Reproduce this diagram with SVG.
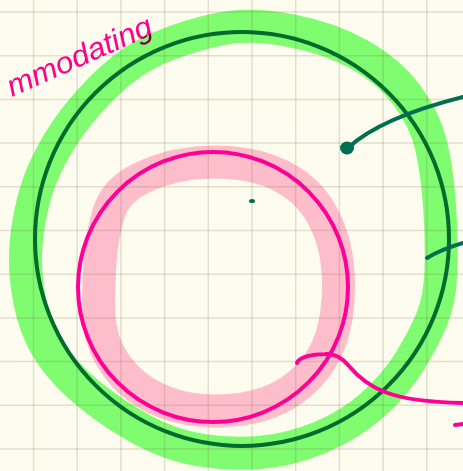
<svg xmlns="http://www.w3.org/2000/svg" width="463" height="471" viewBox="0 0 463 471">
<style>
.grid line{stroke:#7a6a4a;stroke-opacity:0.2;stroke-width:1.5}
.hl{fill:none;stroke-width:33;stroke-linejoin:round;mix-blend-mode:multiply}
.ink{fill:none;stroke-width:4;stroke-linecap:round;stroke-linejoin:round}
</style>
<rect width="463" height="471" fill="#fefcee"/>
<g id="highlights">
<path class="hl" stroke="#80ff78" d="M290,30.5 Q330,38 360,55 Q390,72 407.5,96 Q425,120 431,145 Q437,170 439.5,205 Q442,240 441,270 Q440,300 431.5,320 Q423,340 409,362.5 Q395,385 372.5,405 Q350,425 320,437.5 Q290,450 260,452.5 Q230,455 200,450 Q170,445 142.5,430 Q115,415 90,395 Q65,375 50,352.5 Q35,330 29.5,300 Q24,270 26,245 Q28,220 35,195 Q42,170 58.5,142.5 Q75,115 102.5,87.5 Q130,60 160,47.5 Q190,35 220,29 Q250,23 290,30.5 Z"/>
<path class="hl" stroke="#ffc0da" d="M242.5,164 Q270,168 291,181.5 Q312,195 323.5,217.5 Q335,240 337.5,265 Q340,290 336.5,315 Q333,340 321.5,359 Q310,378 290,391.5 Q270,405 242.5,409 Q215,413 190,409 Q165,405 145,392.5 Q125,380 112.5,360 Q100,340 99,315 Q98,290 100,262.5 Q102,235 108.5,213.5 Q115,192 137.5,180 Q160,168 187.5,164 Q215,160 242.5,164 Z"/>
</g>
<g class="grid">
<line x1="33.5" y1="0" x2="33.5" y2="471"/><line x1="77.2" y1="0" x2="77.2" y2="471"/><line x1="120.9" y1="0" x2="120.9" y2="471"/><line x1="164.6" y1="0" x2="164.6" y2="471"/><line x1="208.3" y1="0" x2="208.3" y2="471"/><line x1="252" y1="0" x2="252" y2="471"/><line x1="295.7" y1="0" x2="295.7" y2="471"/><line x1="339.4" y1="0" x2="339.4" y2="471"/><line x1="383.1" y1="0" x2="383.1" y2="471"/><line x1="426.8" y1="0" x2="426.8" y2="471"/>
<line x1="0" y1="12" x2="463" y2="12"/><line x1="0" y1="55.7" x2="463" y2="55.7"/><line x1="0" y1="99.4" x2="463" y2="99.4"/><line x1="0" y1="143.1" x2="463" y2="143.1"/><line x1="0" y1="186.8" x2="463" y2="186.8"/><line x1="0" y1="230.5" x2="463" y2="230.5"/><line x1="0" y1="274.2" x2="463" y2="274.2"/><line x1="0" y1="317.9" x2="463" y2="317.9"/><line x1="0" y1="361.6" x2="463" y2="361.6"/><line x1="0" y1="405.3" x2="463" y2="405.3"/><line x1="0" y1="449" x2="463" y2="449"/>
</g>
<g id="outer-circle"><circle cx="242" cy="239" r="207" class="ink" stroke="#006b2c"/></g>
<g id="inner-circle"><circle cx="213" cy="287" r="135" class="ink" stroke="#ff0096"/></g>
<g id="connectors">
<path class="ink" stroke="#006e50" d="M348,148 Q380,118 463,97"/>
<ellipse cx="347" cy="148" rx="7" ry="6.5" fill="#006e50"/>
<path class="ink" stroke="#006e50" d="M427,258 Q440,250 463,243"/>
<ellipse cx="252" cy="201" rx="3" ry="2" fill="#006e50"/>
<path class="ink" stroke="#ff0096" d="M297,363 Q300,355 325,354 Q338,353 348,365 Q365,385 385,392 Q410,402 463,403"/>
<path class="ink" stroke="#ff0096" d="M455,425 L463,424"/>
</g>
<g id="label">
<text x="0" y="0" transform="translate(12,97) rotate(-24)" font-family="Liberation Sans, sans-serif" font-style="italic" font-size="30" fill="#ff0096" textLength="156" lengthAdjust="spacingAndGlyphs" style="mix-blend-mode:multiply">mmodating</text>
</g>
</svg>
